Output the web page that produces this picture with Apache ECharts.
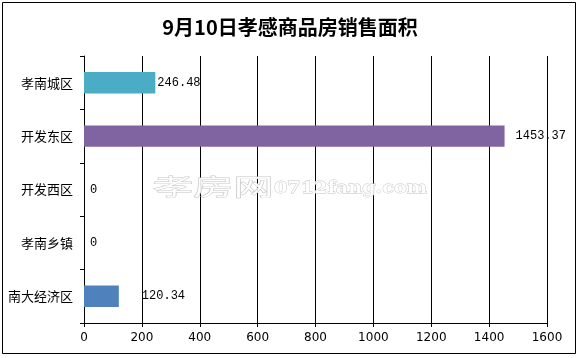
<!DOCTYPE html>
<html><head><meta charset="utf-8">
<script src="https://cdn.jsdelivr.net/npm/echarts@6/dist/echarts.min.js"></script>
<style>html,body{margin:0;padding:0;background:#fff}#c{width:580px;height:358px}</style>
</head><body><div id="c"></div>
<script>
var titleText = '9月10日孝感商品房销售面积';
var categories = ['孝南城区', '开发东区', '开发西区', '孝南乡镇', '南大经济区'];
var values = [246.48, 1453.37, 0, 0, 120.34];
var colors = ['#4BACC6', '#8064A2', '#9BBB59', '#F79646', '#4F81BD'];
var labelGaps = [2, 11, 6, 6, 23];
var xTicks = [0, 200, 400, 600, 800, 1000, 1200, 1400, 1600];

var chart = echarts.init(document.getElementById('c'), null, {renderer: 'canvas'});
chart.setOption({
  animation: false,
  backgroundColor: '#fff',
  title: {
    text: titleText, left: 'center', top: 12,
    textStyle: {fontFamily: 'Noto Sans CJK SC', fontWeight: 'bold', fontSize: 20, color: '#000'}
  },
  graphic: [
    {type: 'rect', shape: {x: 2.5, y: 2.5, width: 573, height: 351}, style: {fill: 'none', stroke: '#000', lineWidth: 1}, z: 100},
    {type: 'text', x: 153, y: 175, scaleX: 1.75, z: 1, silent: true,
      style: {text: '孝房网', font: '23px "Noto Sans CJK SC"', fill: 'rgba(255,255,255,0.9)', stroke: '#c4c4c4', lineWidth: 0.8}},
    {type: 'text', x: 274, y: 180, scaleX: 1.13, z: 1, silent: true,
      style: {text: '0712fang.com', font: 'bold 17px "DejaVu Serif"', fill: 'rgba(255,255,255,0.9)', stroke: '#c4c4c4', lineWidth: 0.8}}
  ],
  grid: {left: 84, right: 33, top: 56, bottom: 35, containLabel: false},
  xAxis: {
    type: 'value', min: xTicks[0], max: xTicks[xTicks.length - 1], interval: 200,
    axisLine: {show: true, lineStyle: {color: '#000', width: 1}},
    axisTick: {show: true, length: 4, lineStyle: {color: '#000'}},
    splitLine: {show: true, lineStyle: {color: '#000', width: 1}},
    axisLabel: {color: '#000', fontSize: 12, margin: 9, fontFamily: 'DejaVu Sans',
      formatter: function (v) { return String(v); }}
  },
  yAxis: {
    type: 'category', data: categories, inverse: true,
    axisLine: {show: true, lineStyle: {color: '#000', width: 1}},
    axisTick: {show: true, length: 4, lineStyle: {color: '#000'}},
    axisLabel: {color: '#000', fontSize: 13, margin: 11, fontFamily: 'Noto Sans CJK SC'}
  },
  series: [{
    type: 'bar', barWidth: '40%', z: 3,
    data: values.map(function (v, i) {
      return {
        value: v,
        itemStyle: {color: colors[i]},
        label: {show: true, position: 'right', distance: labelGaps[i],
          color: '#000', fontSize: 12, fontFamily: 'Liberation Mono'}
      };
    })
  }]
});
</script></body></html>
